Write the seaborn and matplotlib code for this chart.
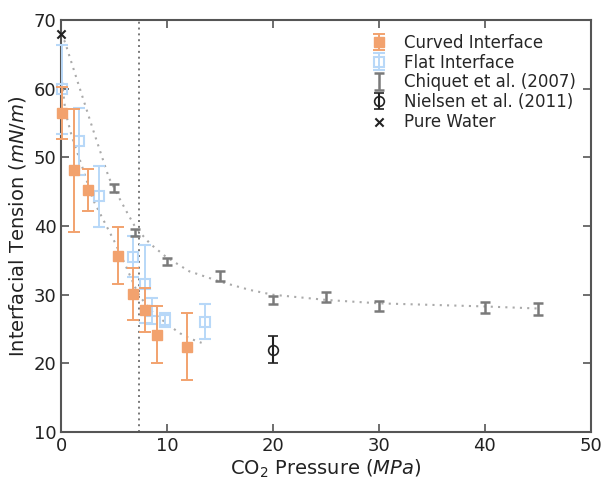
import numpy as np
import pandas as pd
import matplotlib
matplotlib.use("Agg")
import matplotlib.pyplot as plt
import seaborn as sns

# ---- data ----
curved_x = [0.05, 1.21, 2.53, 5.37, 6.73, 7.89, 9.0, 11.83]
curved_y = [56.4, 48.1, 45.25, 35.7, 30.07, 27.8, 24.2, 22.45]
curved_err = [3.8, 8.9, 3.1, 4.2, 3.8, 3.2, 4.2, 4.9]

flat_x = [0.03, 1.68, 3.57, 6.73, 7.89, 8.53, 9.78, 13.56]
flat_y = [59.9, 52.3, 44.3, 35.55, 31.6, 27.6, 26.3, 26.1]
flat_err = [6.5, 4.9, 4.4, 3.0, 5.7, 1.9, 1.05, 2.6]

chiquet_x = [5, 7, 10, 15, 20, 25, 30, 40, 45]
chiquet_y = [45.5, 39.1, 34.9, 32.7, 29.25, 29.7, 28.4, 28.2, 27.9]
chiquet_err = [0.6, 0.5, 0.5, 0.7, 0.6, 0.7, 0.7, 0.8, 0.9]

nielsen_x = [20]
nielsen_y = [22.0]
nielsen_err = [2.0]

water_x = [0]
water_y = [68]

# dotted trend curves
fit1_x = [0, 0.36, 1, 2, 3, 4.5, 5.5, 6.2, 7, 8.4, 9.9, 12.1, 13.1, 15, 17.8, 20, 25, 30, 40, 45]
fit1_y = [68, 66.7, 63.6, 58.8, 54.0, 47.0, 44.0, 42.0, 39.8, 37.4, 35.5, 33.4, 32.9, 31.9, 30.7, 30.0, 29.25, 28.75, 28.3, 28.0]
fit2_x = [0, 0.4, 1, 2, 3, 4, 5, 6, 7, 7.4, 8.4, 9.3, 10.3, 11.2, 12.2, 13.25]
fit2_y = [62, 56.5, 53, 48.5, 43.8, 40.8, 37.8, 34.5, 31.0, 29.8, 27.8, 26.6, 25.4, 24.4, 23.6, 23.0]

critical_p = 7.38

x_ticks = [0, 10, 20, 30, 40, 50]
y_ticks = [10, 20, 30, 40, 50, 60, 70]

# ---- style ----
sns.set_style("ticks")
plt.rcParams['font.family'] = ['DejaVu Sans']
plt.rcParams['mathtext.fontset'] = 'dejavusans'

orange = '#F2A26E'
blue = '#B8D8F8'
grey = '#7A7A7A'
axcol = '#555555'

fig = plt.figure(figsize=(6.01, 4.84), dpi=100)
ax = fig.add_axes([0.102, 0.107, 0.881, 0.852])

# dotted curves
sns.lineplot(x=fit1_x, y=fit1_y, ax=ax, color='#AAAAAA', linestyle=(0, (1, 2.5)),
             linewidth=1.5, sort=False, estimator=None, zorder=1)
sns.lineplot(x=fit2_x, y=fit2_y, ax=ax, color='#AAAAAA', linestyle=(0, (1, 2.5)),
             linewidth=1.5, sort=False, estimator=None, zorder=1)
ax.axvline(critical_p, color='#777777', linestyle=(0, (1, 2)), linewidth=1.4, zorder=1)


def noclip(c):
    for a in c.get_children():
        a.set_clip_on(False)
    return c


h_flat = noclip(ax.errorbar(flat_x, flat_y, yerr=flat_err, fmt='s', color=blue, mfc='none',
                            mec=blue, mew=1.5, markersize=6.5, capsize=4, elinewidth=1.4,
                            capthick=1.4, label='Flat Interface', zorder=3))
h_curved = noclip(ax.errorbar(curved_x, curved_y, yerr=curved_err, fmt='s', color=orange,
                              markersize=6.5, capsize=4, elinewidth=1.4, capthick=1.4,
                              label='Curved Interface', zorder=4))
h_chiq = ax.errorbar(chiquet_x, chiquet_y, yerr=chiquet_err, fmt='none', ecolor=grey,
                     capsize=3.5, elinewidth=1.8, capthick=1.8,
                     label='Chiquet et al. (2007)', zorder=4)
h_niel = ax.errorbar(nielsen_x, nielsen_y, yerr=nielsen_err, fmt='o', color='#222222',
                     mfc='none', mec='#222222', mew=1.2, markersize=7, capsize=3.5,
                     elinewidth=1.5, capthick=1.5, label='Nielsen et al. (2011)', zorder=4)
sns.scatterplot(x=water_x, y=water_y, ax=ax, marker='x', color='#222222', s=35,
                linewidth=1.5, label='Pure Water', zorder=5, clip_on=False)

ax.set_xlim(0, 50)
ax.set_ylim(10, 70)
ax.set_xticks(x_ticks)
ax.set_yticks(y_ticks)
ax.tick_params(direction='in', length=6, width=1.2, colors=axcol, labelcolor='#222222',
               labelsize=13, top=True, right=True, labeltop=False, labelright=False)
for s in ax.spines.values():
    s.set_visible(True)
    s.set_color(axcol)
    s.set_linewidth(1.5)
    s.set_zorder(2)

ax.set_xlabel(r'CO$_2$ Pressure ($\mathit{MPa}$)', fontsize=14, color='#222222', labelpad=2)
ax.set_ylabel(r'Interfacial Tension ($\mathit{mN/m}$)', fontsize=14, color='#222222', labelpad=4)

handles, labels = ax.get_legend_handles_labels()
order = ['Curved Interface', 'Flat Interface', 'Chiquet et al. (2007)',
         'Nielsen et al. (2011)', 'Pure Water']
hmap = dict(zip(labels, handles))
ax.legend([hmap[l] for l in order], order, loc='upper right', frameon=False, fontsize=12,
          handlelength=1.6, handletextpad=0.7, labelspacing=0.1, borderaxespad=0.2,
          bbox_to_anchor=(0.99, 0.99))

fig.savefig('out.png', dpi=100)
